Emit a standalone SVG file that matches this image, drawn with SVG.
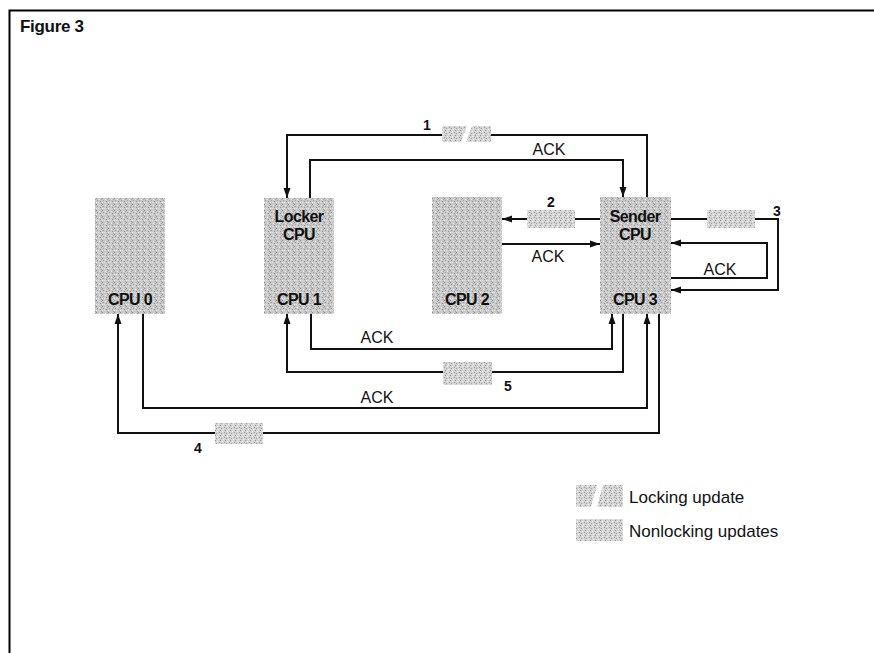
<svg xmlns="http://www.w3.org/2000/svg" width="874" height="653" viewBox="0 0 874 653">
<style>
.frame{fill:none;stroke:#000;stroke-width:2}
.box{fill:url(#stip)}
.cl{font-family:"Liberation Sans",Arial,sans-serif;font-size:16px;font-weight:bold;fill:#111;text-anchor:middle;letter-spacing:-0.6px}
.lbl{font-family:"Liberation Sans",Arial,sans-serif;font-size:16px;fill:#111;text-anchor:middle}
.num{font-family:"Liberation Sans",Arial,sans-serif;font-size:14px;font-weight:bold;fill:#111;text-anchor:middle}
.leg{font-family:"Liberation Sans",Arial,sans-serif;font-size:17px;fill:#111}
.arr{fill:none;stroke:#111;stroke-width:2;marker-end:url(#ah)}
.tag{fill:url(#stip2)}
</style>
<defs>
<pattern id="stip" width="6" height="6" patternUnits="userSpaceOnUse">
<rect width="6" height="6" fill="#c9c9c9"/>
<rect x="0" y="0" width="1" height="1" fill="#8a8a8a"/>
<rect x="3" y="1" width="1" height="1" fill="#ececec"/>
<rect x="1" y="2" width="1" height="1" fill="#9a9a9a"/>
<rect x="4" y="3" width="1" height="1" fill="#8f8f8f"/>
<rect x="2" y="4" width="1" height="1" fill="#e6e6e6"/>
<rect x="5" y="5" width="1" height="1" fill="#a0a0a0"/>
<rect x="5" y="1" width="1" height="1" fill="#a8a8a8"/>
<rect x="0" y="4" width="1" height="1" fill="#f0f0f0"/>
</pattern>
<pattern id="stip2" width="5" height="5" patternUnits="userSpaceOnUse">
<rect width="5" height="5" fill="#d4d4d4"/>
<rect x="0" y="0" width="1" height="1" fill="#909090"/>
<rect x="2" y="1" width="1" height="1" fill="#f4f4f4"/>
<rect x="4" y="2" width="1" height="1" fill="#9a9a9a"/>
<rect x="1" y="3" width="1" height="1" fill="#a0a0a0"/>
<rect x="3" y="4" width="1" height="1" fill="#f0f0f0"/>
</pattern>
<marker id="ah" markerUnits="userSpaceOnUse" markerWidth="10" markerHeight="10" viewBox="0 0 10 10" refX="10" refY="5" orient="auto">
<path d="M0,1.5 L10,5 L0,8.5 Z" fill="#111"/>
</marker>
</defs>
<rect width="874" height="653" fill="#fff"/>
<path class="frame" d="M9.5,653 V10.5 H874"/>
<text x="20" y="32" style="font-family:'Liberation Sans',Arial,sans-serif;font-size:17px;font-weight:bold;letter-spacing:-0.3px" fill="#111">Figure 3</text>

<g id="cpu0"><rect class="box" x="95" y="198" width="70" height="116"/><text class="cl" x="130" y="305">CPU 0</text></g>
<g id="cpu1"><rect class="box" x="264" y="198" width="70" height="116"/><text class="cl" x="299" y="222">Locker</text><text class="cl" x="299" y="240">CPU</text><text class="cl" x="299" y="305">CPU 1</text></g>
<g id="cpu2"><rect class="box" x="432" y="197" width="70" height="117"/><text class="cl" x="467" y="305">CPU 2</text></g>
<g id="cpu3"><rect class="box" x="600" y="197" width="71" height="117"/><text class="cl" x="635" y="222">Sender</text><text class="cl" x="635" y="240">CPU</text><text class="cl" x="635" y="305">CPU 3</text></g>

<g id="connectors">
<path class="arr" d="M647,197 V135 H287 V198"/>
<path class="arr" d="M310,198 V160 H623 V197"/>
<path class="arr" d="M600,219 H502"/>
<path class="arr" d="M502,244 H600"/>
<path class="arr" d="M671,219 H778 V290 H671"/>
<path class="arr" d="M671,278 H767 V243 H671"/>
<path class="arr" d="M623,314 V372 H287 V314"/>
<path class="arr" d="M311,314 V349 H612 V314"/>
<path class="arr" d="M143,314 V408 H647 V314"/>
<path class="arr" d="M659,314 V433 H118 V314"/>
</g>

<g id="tags">
<rect class="tag" x="442" y="126" width="49" height="16"/>
<path d="M467,126 L472,126 L466,142 L461,142 Z" fill="#fff"/>
<rect class="tag" x="527" y="210" width="48" height="18"/>
<rect class="tag" x="707" y="210" width="48" height="18"/>
<rect class="tag" x="443" y="362" width="49" height="23"/>
<rect class="tag" x="215" y="423" width="48" height="21"/>
</g>

<g id="labels">
<text class="num" x="427" y="130">1</text>
<text class="lbl" x="549" y="155">ACK</text>
<text class="num" x="551" y="207">2</text>
<text class="lbl" x="548" y="262">ACK</text>
<text class="num" x="777" y="216">3</text>
<text class="lbl" x="720" y="275">ACK</text>
<text class="lbl" x="377" y="343">ACK</text>
<text class="num" x="508" y="391">5</text>
<text class="lbl" x="377" y="403">ACK</text>
<text class="num" x="198" y="453">4</text>
</g>

<g id="legend">
<rect class="tag" x="576" y="485" width="47" height="22"/>
<path d="M597,485 L603,485 L597,507 L591,507 Z" fill="#fff"/>
<text class="leg" x="629" y="503">Locking update</text>
<rect class="tag" x="576" y="519" width="47" height="22"/>
<text class="leg" x="629" y="537">Nonlocking updates</text>
</g>
</svg>
